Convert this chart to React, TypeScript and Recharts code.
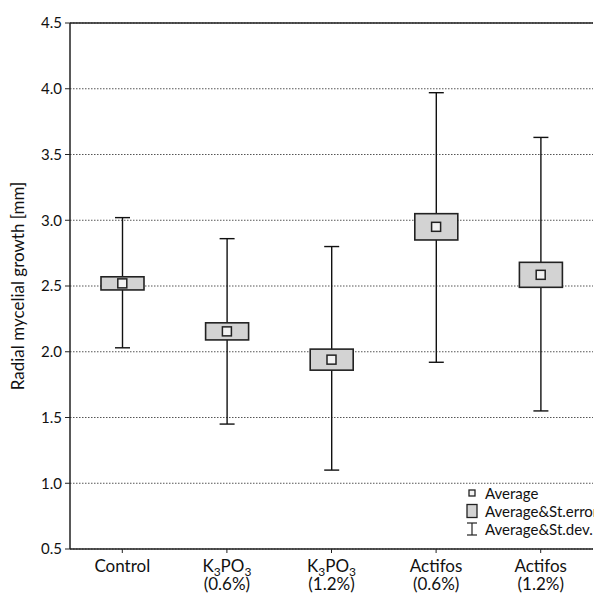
import React from 'react';
import {
  ComposedChart, Bar, Scatter, XAxis, YAxis, CartesianGrid, ReferenceLine, Label
} from 'recharts';

// 処理区ごとの値
const categories = ['Control', 'K3PO3 (0.6%)', 'K3PO3 (1.2%)', 'Actifos (0.6%)', 'Actifos (1.2%)'];
const labelTop = ['Control', 'K3PO3', 'K3PO3', 'Actifos', 'Actifos'];
const labelBottom = ['', '(0.6%)', '(1.2%)', '(0.6%)', '(1.2%)'];
const means = [2.52, 2.155, 1.94, 2.95, 2.585];
const seLow = [2.47, 2.09, 1.86, 2.85, 2.49];
const seHigh = [2.57, 2.22, 2.02, 3.05, 2.68];
const sdLow = [2.03, 1.45, 1.1, 1.92, 1.55];
const sdHigh = [3.02, 2.86, 2.8, 3.97, 3.63];
const yTicks = [0.5, 1.0, 1.5, 2.0, 2.5, 3.0, 3.5, 4.0, 4.5];
const legendItems = ['Average', 'Average&St.error', 'Average&St.dev.'];

const data = categories.map((name, i) => ({
  name,
  mean: means[i],
  se: [seLow[i], seHigh[i]],
  sd: [sdLow[i], sdHigh[i]],
}));

const FONT = 'Lato, "Noto Sans", sans-serif';

const Whisker = (props: any) => {
  const { x, y, width, height } = props;
  const top = Math.min(y, y + height);
  const bottom = Math.max(y, y + height);
  const cx = x + width / 2;
  return (
    <g stroke="#111" strokeWidth={1.4}>
      <line x1={cx} y1={top} x2={cx} y2={bottom} />
      <line x1={x} y1={top} x2={x + width} y2={top} />
      <line x1={x} y1={bottom} x2={x + width} y2={bottom} />
    </g>
  );
};

const SeBox = (props: any) => {
  const { x, y, width, height } = props;
  const top = Math.min(y, y + height);
  return (
    <rect x={x} y={top} width={width} height={Math.abs(height)} fill="#d3d3d3" stroke="#222" strokeWidth={1.6} />
  );
};

const MeanMark = (props: any) => {
  const { cx, cy } = props;
  return <rect x={cx - 4.5} y={cy - 4.5} width={9} height={9} fill="#f2f2f2" stroke="#222" strokeWidth={1.5} />;
};

const Sub = ({ children }: { children: string }) => (
  <tspan fontSize={12} dy={4}>{children}</tspan>
);

const XTick = (props: any) => {
  const { x, y, payload } = props;
  const i = categories.indexOf(payload.value);
  const top = labelTop[i];
  return (
    <g transform={`translate(${x},${y})`}>
      <text x={0} y={19} textAnchor="middle" fontSize={17} fill="#111" fontFamily={FONT}>
        {top === 'K3PO3' ? (
          <>
            K<Sub>3</Sub><tspan dy={-4}>PO</tspan><Sub>3</Sub>
          </>
        ) : top}
      </text>
      {labelBottom[i] && (
        <text x={0} y={37} textAnchor="middle" fontSize={17} fill="#111" fontFamily={FONT}>
          {labelBottom[i]}
        </text>
      )}
    </g>
  );
};

const LegendIcon = ({ kind }: { kind: number }) => (
  <svg width={14} height={16} style={{ marginRight: 6, flexShrink: 0 }}>
    {kind === 0 && <rect x={4} y={5} width={6} height={6} fill="#f2f2f2" stroke="#222" strokeWidth={1.3} />}
    {kind === 1 && <rect x={2} y={1.5} width={10} height={13} fill="#d3d3d3" stroke="#222" strokeWidth={1.3} />}
    {kind === 2 && (
      <g stroke="#222" strokeWidth={1.2}>
        <line x1={7} y1={2} x2={7} y2={14} />
        <line x1={2} y1={2} x2={12} y2={2} />
        <line x1={2} y1={14} x2={12} y2={14} />
      </g>
    )}
  </svg>
);

export default function App() {
  return (
    <div style={{ position: 'absolute', left: 0, top: 0, width: 594, height: 597, background: '#fff', overflow: 'hidden' }}>
      <ComposedChart
        width={594}
        height={597}
        data={data}
        margin={{ top: 23, right: 1, bottom: 0, left: 0 }}
        barGap={0}
      >
        <CartesianGrid vertical={false} stroke="#555" strokeDasharray="1.5 1.5" />
        <XAxis
          xAxisId="a"
          dataKey="name"
          type="category"
          height={48}
          tick={<XTick />}
          tickSize={4}
          tickMargin={0}
          interval={0}
          axisLine={{ stroke: '#222', strokeWidth: 1.5 }}
          tickLine={{ stroke: '#222' }}
        />
        <XAxis xAxisId="b" dataKey="name" type="category" hide />
        <YAxis
          domain={[0.5, 4.5]}
          ticks={yTicks}
          width={70}
          tickFormatter={(v: number) => v.toFixed(1)}
          tick={{ fontSize: 15, fill: '#111', fontFamily: FONT }}
          tickSize={5}
          tickMargin={3}
          axisLine={{ stroke: '#222', strokeWidth: 1.5 }}
          tickLine={{ stroke: '#222' }}
          interval={0}
        >
          <Label
            value="Radial mycelial growth [mm]"
            angle={-90}
            position="insideLeft"
            offset={18}
            style={{ textAnchor: 'middle', fontSize: 17, fill: '#111', fontFamily: FONT }}
          />
        </YAxis>
        <ReferenceLine xAxisId="a" y={4.5} stroke="#222" strokeWidth={1.5} />
        <Bar xAxisId="a" dataKey="sd" barSize={15} shape={<Whisker />} isAnimationActive={false} />
        <Bar xAxisId="b" dataKey="se" barSize={43} shape={<SeBox />} isAnimationActive={false} />
        <Scatter xAxisId="a" dataKey="mean" shape={<MeanMark />} isAnimationActive={false} />
      </ComposedChart>
      <div style={{ position: 'absolute', left: 465, top: 484, fontFamily: FONT, fontSize: 15, color: '#111', lineHeight: '18px', whiteSpace: 'nowrap' }}>
        {legendItems.map((t, i) => (
          <div key={t} style={{ display: 'flex', alignItems: 'center', height: 18 }}>
            <LegendIcon kind={i} />
            <span>{t}</span>
          </div>
        ))}
      </div>
    </div>
  );
}
